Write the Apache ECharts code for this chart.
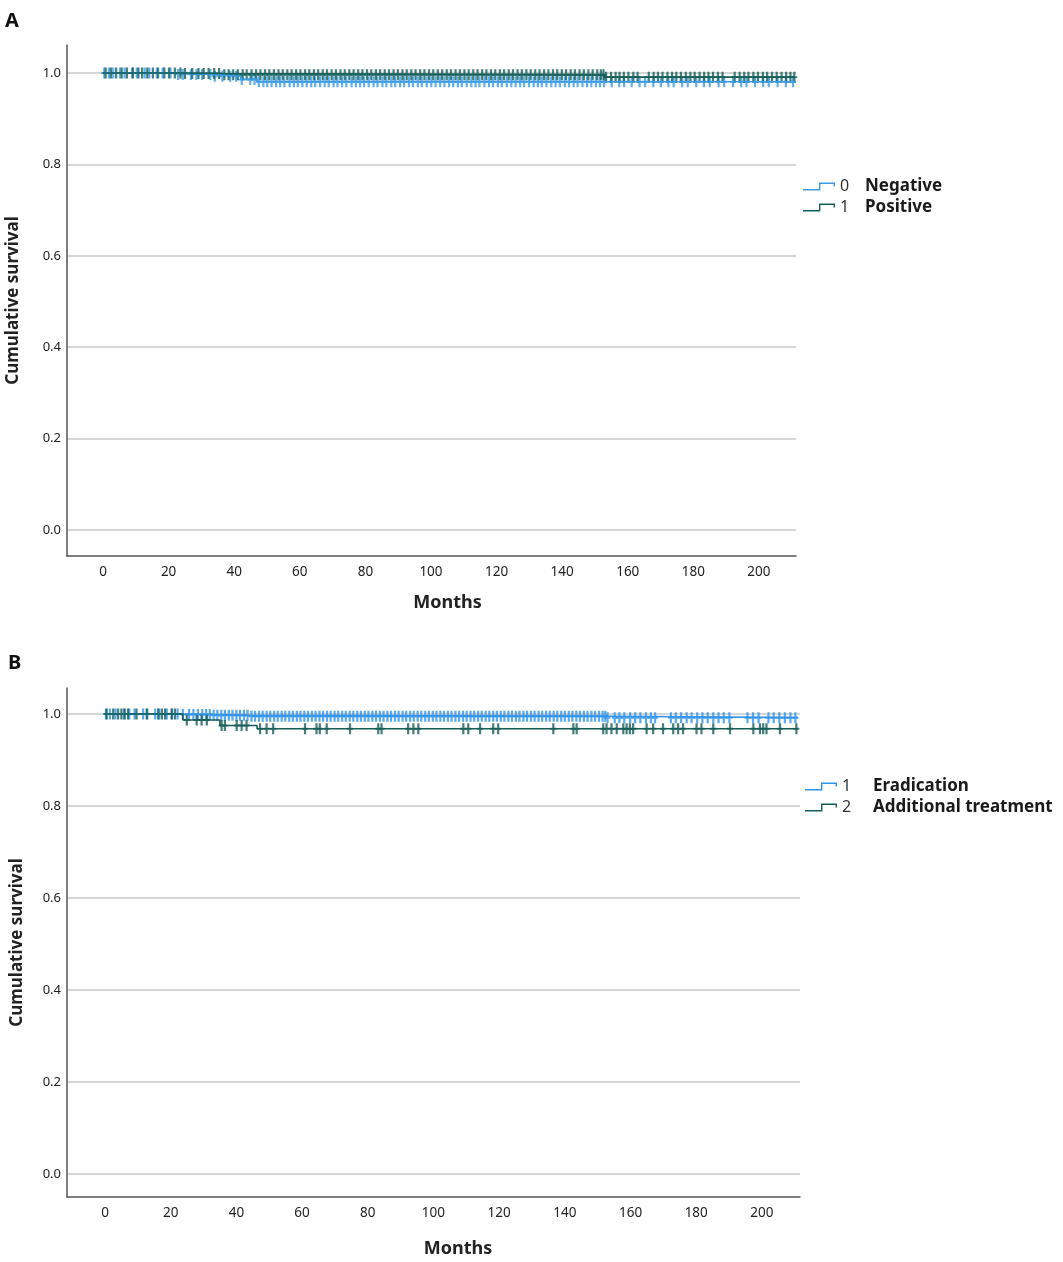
<!DOCTYPE html>
<html>
<head>
<meta charset="utf-8">
<title>Cumulative survival</title>
<script src="https://cdn.jsdelivr.net/npm/echarts@6/dist/echarts.min.js"></script>
<style>
  html, body { margin: 0; padding: 0; background: #fff; }
  #chart { width: 1063px; height: 1262px; }
</style>
</head>
<body>
<div id="chart"></div>
<script>
// 刻度
const monthTicks = [0, 20, 40, 60, 80, 100, 120, 140, 160, 180, 200];
const survivalTicks = [0, 0.2, 0.4, 0.6, 0.8, 1.0];

// A: 生存曲线 [月, 累积生存率]
const aNegSteps = [[0, 1], [22, 0.997], [33, 0.993], [42, 0.986], [47, 0.981], [211, 0.981]];
const aPosSteps = [[0, 1], [24, 0.999], [36, 0.996], [153, 0.991], [211, 0.991]];

// A: 删失时间
const aNegCensor = [0.4, 1.8, 3.1, 5.2, 6.6, 8.9, 10.3, 12.7, 14.1, 16.4, 18.2, 20.6, 22.9, 24.3, 26.8, 28.5,
  30.2, 32.7, 34.1, 36.4, 38.8, 40.6, 42.3, 44.9, 46.2, 47.5, 48.9, 50.1, 51.4, 52.8, 54.0, 55.3, 56.9, 58.2,
  59.4, 60.8, 62.1, 63.5, 64.7, 66.2, 67.6, 68.8, 70.3, 71.5, 72.9, 74.2, 75.8, 77.1, 78.4, 79.6, 81.0, 82.5,
  83.7, 85.2, 86.4, 87.9, 89.1, 90.6, 91.8, 93.3, 94.5, 96.0, 97.2, 98.7, 100.1, 101.4, 102.8, 104.1, 105.5,
  106.8, 108.2, 109.4, 110.9, 112.3, 113.6, 114.8, 116.3, 117.7, 118.9, 120.4, 121.6, 123.1, 124.5, 125.8,
  127.2, 128.4, 129.9, 131.3, 132.6, 133.8, 135.2, 136.7, 138.0, 139.3, 140.8, 142.1, 143.5, 144.7, 146.2,
  147.6, 148.9, 150.3, 151.5, 152.8, 155.1, 157.4, 158.9, 161.2, 163.6, 165.3, 167.8, 170.1, 172.4, 174.0,
  176.6, 178.3, 180.9, 183.2, 185.0, 187.7, 189.4, 192.1, 194.6, 196.2, 198.8, 201.3, 203.0, 205.7, 208.2, 210.4];
const aPosCensor = [0.8, 2.4, 4.0, 5.7, 7.3, 9.1, 10.8, 11.9, 13.5, 15.2, 16.8, 18.7, 20.1, 21.9, 23.6, 25.0,
  27.2, 29.1, 30.7, 32.2, 33.9, 35.4, 37.0, 38.3, 39.7, 41.1, 42.6, 43.8, 45.3, 46.7, 48.0, 49.4, 50.7, 52.1,
  53.5, 54.8, 56.2, 57.5, 58.9, 60.2, 61.6, 62.9, 64.3, 65.6, 67.0, 68.3, 69.7, 71.0, 72.4, 73.7, 75.1, 76.4,
  77.8, 79.1, 80.5, 81.8, 83.2, 84.5, 85.9, 87.2, 88.6, 89.9, 91.3, 92.6, 94.0, 95.3, 96.7, 98.0, 99.4, 100.7,
  102.1, 103.4, 104.8, 106.1, 107.5, 108.8, 110.2, 111.5, 112.9, 114.2, 115.6, 116.9, 118.3, 119.6, 121.0,
  122.3, 123.7, 125.0, 126.4, 127.7, 129.1, 130.4, 131.8, 133.1, 134.5, 135.8, 137.2, 138.5, 139.9, 141.2,
  142.6, 143.9, 145.3, 146.6, 148.0, 149.3, 150.7, 151.8, 152.6, 153.4, 154.9, 156.3, 157.5, 158.8, 160.2,
  161.7, 163.0, 166.4, 167.9, 169.2, 170.6, 172.1, 173.5, 174.8, 176.2, 177.7, 179.1, 180.4, 181.9, 183.3,
  184.6, 186.0, 187.5, 188.9, 192.6, 194.1, 195.5, 196.8, 198.3, 199.7, 201.2, 202.5, 204.0, 205.4, 206.9,
  208.3, 209.6, 210.8];

// B: 生存曲线
const bEradSteps = [[0, 1], [23, 0.999], [33, 0.997], [44, 0.995], [153, 0.992], [211, 0.992]];
const bAddSteps = [[0, 1], [23.7, 0.987], [35, 0.975], [46.3, 0.968], [211, 0.968]];

// B: 删失时间
const bEradCensor = [0.3, 1.5, 3.2, 5.8, 7.4, 9.0, 11.6, 12.9, 15.3, 16.5, 18.8, 20.4, 22.1, 23.7, 25.6, 26.9,
  28.3, 29.6, 30.8, 31.9, 33.1, 34.2, 35.4, 36.5, 37.7, 38.8, 40.0, 41.1, 42.3, 43.4, 44.6, 45.7, 46.9, 48.0,
  49.2, 50.3, 51.5, 52.6, 53.8, 54.9, 56.1, 57.2, 58.4, 59.5, 60.7, 61.8, 63.0, 64.1, 65.3, 66.4, 67.6, 68.7,
  69.9, 71.0, 72.2, 73.3, 74.5, 75.6, 76.8, 77.9, 79.1, 80.2, 81.4, 82.5, 83.7, 84.8, 86.0, 87.1, 88.3, 89.4,
  90.6, 91.7, 92.9, 94.0, 95.2, 96.3, 97.5, 98.6, 99.8, 100.9, 102.1, 103.2, 104.4, 105.5, 106.7, 107.8,
  109.0, 110.1, 111.3, 112.4, 113.6, 114.7, 115.9, 117.0, 118.2, 119.3, 120.5, 121.6, 122.8, 123.9, 125.1,
  126.2, 127.4, 128.5, 129.7, 130.8, 132.0, 133.1, 134.3, 135.4, 136.6, 137.7, 138.9, 140.0, 141.2, 142.3,
  143.5, 144.6, 145.8, 146.9, 148.1, 149.2, 150.4, 151.5, 152.3, 153.0, 155.2, 156.6, 158.1, 159.9, 161.4,
  163.0, 164.7, 166.2, 167.5, 172.3, 173.8, 175.4, 177.1, 178.6, 180.3, 181.9, 183.5, 185.2, 186.8, 188.4,
  190.1, 195.6, 197.3, 199.0, 202.0, 203.6, 205.3, 207.0, 208.7, 210.2];
const bAddCensor = [0.5, 2.5, 4, 5, 6, 7, 9.6, 12.7, 16.2, 17.3, 18.3, 20.3, 21.3, 24.9, 27.9, 29.4, 31,
  35.5, 36.5, 40.1, 41.6, 43.1, 47.2, 49.2, 51.2, 60.9, 64.4, 65.4, 67.5, 74.6, 83.2, 84.2, 92.3, 93.9, 95.4,
  109.1, 110.6, 114.2, 118.2, 119.7, 136.5, 142.6, 143.6, 151.7, 152.7, 154.2, 155.8, 157.8, 158.8, 159.8,
  160.8, 164.9, 166.9, 169.9, 173, 174.5, 176, 180.1, 181.6, 185.2, 190.3, 197.4, 199.4, 200.4, 201.4,
  205.5, 210.5];

// 图例的组别编号
const groupCode = { 'Negative': '0', 'Positive': '1', 'Eradication': '1', 'Additional treatment': '2' };

const BLUE_A = '#3a9be6';
const TEAL_A = '#145f5a';
const BLUE_B = '#2f94ea';
const TEAL_B = '#155d58';

// 删失点落在曲线上
function survivalAt(steps, t) {
  let s = steps[0][1];
  for (const p of steps) {
    if (p[0] <= t) s = p[1];
  }
  return s;
}

const plusMark = 'path://M1.9,0H4.1V4.1H6V5.9H4.1V10H1.9V5.9H0V4.1H1.9Z';
const stepIcon = 'path://M0,6.6L16,6.6L16,0L32,0L32,4L30.6,4L30.6,1.4L17.4,1.4L17.4,8L0,8Z';

function curve(name, steps, color, idx) {
  return {
    name: name, type: 'line', step: 'end', data: steps,
    xAxisIndex: idx, yAxisIndex: idx,
    showSymbol: false, silent: true, color: color,
    lineStyle: { color: color, width: 1.6 }
  };
}

function censor(steps, times, color, idx) {
  return {
    type: 'scatter', xAxisIndex: idx, yAxisIndex: idx, silent: true,
    symbol: plusMark, symbolSize: [6, 11],
    itemStyle: { color: color },
    data: times.map(t => [t, survivalAt(steps, t)])
  };
}

function xAxis(idx, min, max, nameGap, shift) {
  return {
    type: 'value', gridIndex: idx, min: min, max: max,
    name: 'Months', nameLocation: 'middle', nameGap: nameGap,
    nameTextStyle: { fontSize: 18, fontWeight: 'bold', color: '#222', padding: [0, 0, 0, shift] },
    axisLine: { onZero: false, lineStyle: { color: '#555', width: 1.5 } },
    axisTick: { show: false, customValues: monthTicks },
    axisLabel: { customValues: monthTicks, margin: 9, fontSize: 13.5, color: '#222' },
    splitLine: { show: false }
  };
}

function yAxis(idx, min, max, nameGap) {
  return {
    type: 'value', gridIndex: idx, min: min, max: max,
    name: 'Cumulative survival', nameLocation: 'middle', nameGap: nameGap,
    nameTextStyle: { fontSize: 17, fontWeight: 'bold', color: '#222' },
    axisLine: { show: true, onZero: false, lineStyle: { color: '#555', width: 1.5 } },
    axisTick: { show: false, customValues: survivalTicks },
    axisLabel: { customValues: survivalTicks, margin: 6, fontSize: 13, color: '#222',
      formatter: v => v.toFixed(1) },
    splitLine: { show: true, lineStyle: { color: '#c9c9c9', width: 1.5 } }
  };
}

function legend(names, left, top, codeWidth, gap) {
  return {
    data: names, orient: 'vertical', left: left, top: top,
    itemWidth: 32, itemHeight: 8, itemGap: gap, icon: stepIcon, selectedMode: false,
    formatter: n => '{c|' + groupCode[n] + '}{n|' + n + '}',
    textStyle: {
      rich: {
        c: { fontSize: 16, color: '#333', width: codeWidth, lineHeight: 20 },
        n: { fontSize: 17, fontWeight: 'bold', color: '#1a1a1a', lineHeight: 20 }
      }
    }
  };
}

const chart = echarts.init(document.getElementById('chart'));
chart.setOption({
  animation: false,
  textStyle: { fontFamily: 'Noto Sans, sans-serif' },
  title: [
    { text: 'A', left: 0, top: 6, textStyle: { fontSize: 20, fontWeight: 'bold', color: '#111' } },
    { text: 'B', left: 3, top: 648, textStyle: { fontSize: 20, fontWeight: 'bold', color: '#111' } }
  ],
  legend: [
    legend(['Negative', 'Positive'], 798, 173, 25, 4),
    legend(['Eradication', 'Additional treatment'], 800, 773, 31, 4)
  ],
  grid: [
    { left: 67, top: 45, width: 729, height: 511, outerBoundsMode: 'none' },
    { left: 67, top: 688, width: 733, height: 509, outerBoundsMode: 'none' }
  ],
  xAxis: [xAxis(0, -10.98, 211.3, 38, 32), xAxis(1, -11.57, 211.6, 43, 49)],
  yAxis: [yAxis(0, -0.0569, 1.0613, 45), yAxis(1, -0.05, 1.0565, 41)],
  series: [
    curve('Negative', aNegSteps, BLUE_A, 0),
    censor(aNegSteps, aNegCensor, BLUE_A, 0),
    curve('Positive', aPosSteps, TEAL_A, 0),
    censor(aPosSteps, aPosCensor, TEAL_A, 0),
    curve('Eradication', bEradSteps, BLUE_B, 1),
    censor(bEradSteps, bEradCensor, BLUE_B, 1),
    curve('Additional treatment', bAddSteps, TEAL_B, 1),
    censor(bAddSteps, bAddCensor, TEAL_B, 1)
  ]
});
</script>
</body>
</html>
